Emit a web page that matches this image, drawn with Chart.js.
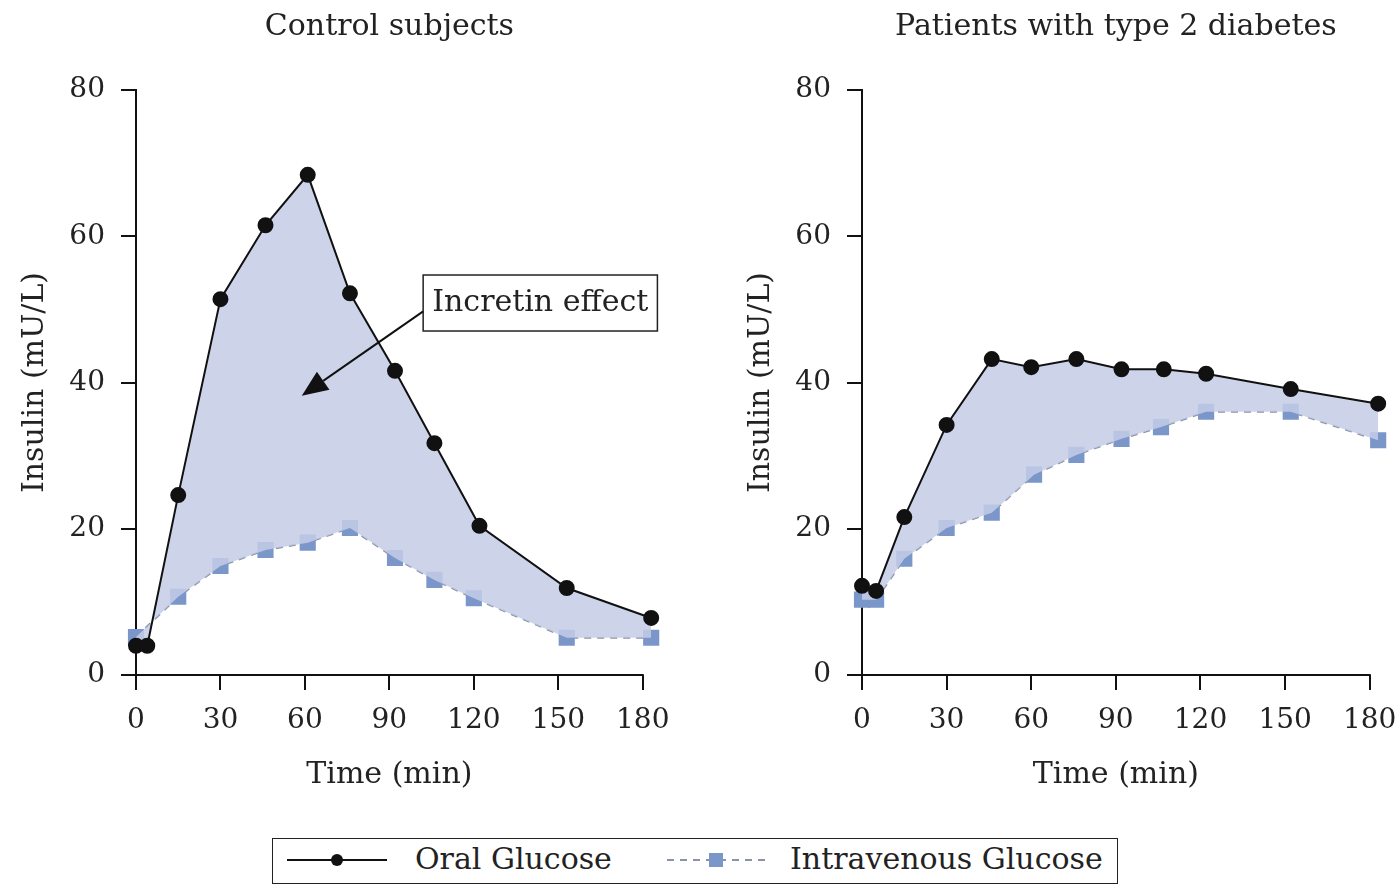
<!DOCTYPE html>
<html>
<head>
<meta charset="utf-8">
<script src="https://cdn.jsdelivr.net/npm/chart.js@4.4.1/dist/chart.umd.min.js"></script>
<style>
  body { margin: 0; background: #fff; overflow: hidden; width: 1398px; height: 884px; position: relative; }
  .panel { position: absolute; top: 0; }
  #legend { position: absolute; left: 272px; top: 838px; width: 846px; height: 46px; border: 1.5px solid #222; box-sizing: border-box; font-family: "DejaVu Serif", serif; font-size: 30px; color: #222; }
  #legend span { position: absolute; top: 2px; }
  #legend svg { position: absolute; top: 6px; }
</style>
</head>
<body>
<div class="panel" style="left:0px"><canvas id="left" width="690" height="800"></canvas></div>
<div class="panel" style="left:726px"><canvas id="right" width="690" height="800"></canvas></div>
<div id="legend">
  <svg style="left:12px" width="104" height="30"><line x1="2" y1="15" x2="102" y2="15" stroke="#111" stroke-width="2"/><circle cx="52" cy="15" r="6" fill="#111"/></svg>
  <span style="left:142px">Oral Glucose</span>
  <svg style="left:392px" width="104" height="30"><line x1="2" y1="15" x2="102" y2="15" stroke="#8a93a8" stroke-width="2" stroke-dasharray="7,6"/><rect x="44" y="8" width="14" height="14" fill="#7b97c9"/></svg>
  <span style="left:517px">Intravenous Glucose</span>
</div>
<script>
// time (min) and insulin (mU/L)
const xTicks = [0, 30, 60, 90, 120, 150, 180];

const leftOralTime = [0, 4, 15, 30, 46, 61, 76, 92, 106, 122, 153, 183];
const leftOral = [4, 4, 24.6, 51.4, 61.5, 68.4, 52.2, 41.6, 31.7, 20.4, 11.9, 7.8];
const leftIvTime = [0, 15, 30, 46, 61, 76, 92, 106, 120, 153, 183];
const leftIv = [5.2, 10.7, 14.9, 17.1, 18.1, 20.1, 16, 13, 10.5, 5.1, 5.1];

const rightOralTime = [0, 5, 15, 30, 46, 60, 76, 92, 107, 122, 152, 183];
const rightOral = [12.2, 11.5, 21.6, 34.2, 43.2, 42.1, 43.2, 41.8, 41.8, 41.2, 39.1, 37.1];
const rightIvTime = [0, 5, 15, 30, 46, 61, 76, 92, 106, 122, 152, 183];
const rightIv = [10.3, 10.3, 15.9, 20.1, 22.2, 27.4, 30.1, 32.3, 33.9, 36, 36, 32.1];

const FONT = '"DejaVu Serif", serif';
const TEXT = '#222';
const FILL = 'rgba(196,204,230,0.85)';

const decor = {
  id: 'decor',
  beforeDatasetsDraw(chart) {
    const { ctx, scales: { x, y } } = chart;
    ctx.save();
    ctx.strokeStyle = '#111';
    ctx.lineWidth = 2;
    ctx.beginPath();
    ctx.moveTo(x.getPixelForValue(0) - 1, y.getPixelForValue(0));
    ctx.lineTo(x.getPixelForValue(180) + 1, y.getPixelForValue(0));
    ctx.stroke();
    ctx.restore();
  },
  afterDraw(chart, args, opts) {
    const { ctx, chartArea, scales: { x, y } } = chart;
    ctx.save();
    ctx.fillStyle = TEXT;
    ctx.textAlign = 'center';
    ctx.textBaseline = 'middle';
    ctx.font = '30px ' + FONT;
    ctx.fillText(opts.title, x.getPixelForValue(90), chartArea.top - 63);
    ctx.fillText('Time (min)', x.getPixelForValue(90), chartArea.bottom + 100);

    if (opts.note) {
      const bx = x.getPixelForValue(opts.noteAt[0]);
      const by = y.getPixelForValue(opts.noteAt[1]);
      ctx.font = '30px ' + FONT;
      const w = ctx.measureText(opts.note).width + 18;
      const h = 56;
      ctx.fillStyle = '#fff';
      ctx.fillRect(bx, by, w, h);
      ctx.strokeStyle = '#222';
      ctx.lineWidth = 1.5;
      ctx.strokeRect(bx, by, w, h);
      ctx.fillStyle = TEXT;
      ctx.textAlign = 'left';
      ctx.fillText(opts.note, bx + 9, by + h / 2);

      // arrow
      const sx = bx, sy = by + h * 0.65;
      const tx = x.getPixelForValue(opts.arrowTip[0]);
      const ty = y.getPixelForValue(opts.arrowTip[1]);
      const ang = Math.atan2(ty - sy, tx - sx);
      const len = 26, half = 11;
      const bxh = tx - len * Math.cos(ang), byh = ty - len * Math.sin(ang);
      ctx.strokeStyle = '#111';
      ctx.lineWidth = 2;
      ctx.beginPath();
      ctx.moveTo(sx, sy);
      ctx.lineTo(bxh, byh);
      ctx.stroke();
      ctx.fillStyle = '#111';
      ctx.beginPath();
      ctx.moveTo(tx, ty);
      ctx.lineTo(bxh + half * Math.sin(ang), byh - half * Math.cos(ang));
      ctx.lineTo(bxh - half * Math.sin(ang), byh + half * Math.cos(ang));
      ctx.closePath();
      ctx.fill();
    }
    ctx.restore();
  }
};

function pts(t, v) {
  return t.map((tt, i) => ({ x: tt, y: v[i] }));
}

function makeChart(id, oralT, oralV, ivT, ivV, rightPad, decorOpts) {
  new Chart(document.getElementById(id), {
    type: 'line',
    data: {
      datasets: [
        {
          label: 'Oral Glucose',
          data: pts(oralT, oralV),
          borderColor: '#111',
          borderWidth: 2,
          backgroundColor: FILL,
          pointBackgroundColor: '#111',
          pointBorderColor: '#111',
          pointRadius: 7,
          fill: '+1',
          clip: false,
          tension: 0
        },
        {
          label: 'Intravenous Glucose',
          data: pts(ivT, ivV),
          borderColor: '#8a93a8',
          borderWidth: 2,
          borderDash: [7, 6],
          backgroundColor: '#7b97c9',
          pointBackgroundColor: '#7b97c9',
          pointBorderColor: '#7b97c9',
          pointStyle: 'rect',
          pointRadius: 10,
          fill: false,
          clip: false,
          tension: 0
        }
      ]
    },
    options: {
      responsive: false,
      animation: false,
      layout: { padding: { top: 90, right: rightPad, left: 0, bottom: 0 } },
      plugins: {
        legend: { display: false },
        tooltip: { enabled: false },
        decor: decorOpts
      },
      scales: {
        x: {
          type: 'linear',
          min: 0,
          max: 184,
          afterBuildTicks: s => { s.ticks = xTicks.map(v => ({ value: v })); },
          afterFit: s => { s.height = 125; },
          border: { display: false },
          grid: { drawOnChartArea: false, tickLength: 15, color: '#111', lineWidth: 2 },
          ticks: { font: { family: FONT, size: 28 }, color: TEXT, padding: 14, maxRotation: 0 }
        },
        y: {
          min: 0,
          max: 80,
          afterFit: s => { s.width = 136; },
          border: { display: true, color: '#111', width: 2 },
          grid: { drawOnChartArea: false, tickLength: 15, color: '#111', lineWidth: 2 },
          ticks: { stepSize: 20, font: { family: FONT, size: 28 }, color: TEXT, padding: 16 },
          title: { display: true, text: 'Insulin (mU/L)', font: { family: FONT, size: 30 }, color: TEXT, padding: { top: 17, bottom: 0 } }
        }
      }
    },
    plugins: [decor]
  });
}

makeChart('left', leftOralTime, leftOral, leftIvTime, leftIv, 36,
  { title: 'Control subjects', note: 'Incretin effect', noteAt: [102, 54.7], arrowTip: [58.9, 38.2] });
makeChart('right', rightOralTime, rightOral, rightIvTime, rightIv, 35,
  { title: 'Patients with type 2 diabetes' });
</script>
</body>
</html>
